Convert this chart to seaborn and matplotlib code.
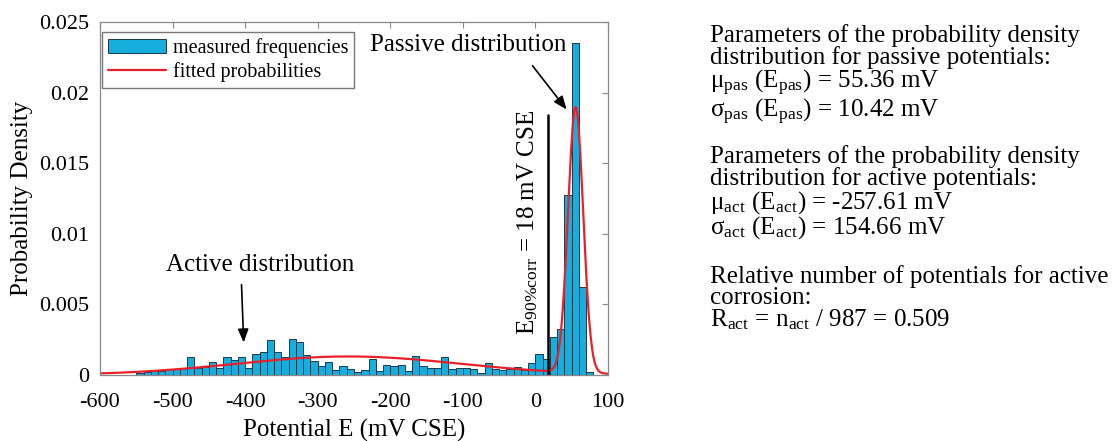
import numpy as np
import pandas as pd
import matplotlib
matplotlib.use("Agg")
import matplotlib.pyplot as plt
import seaborn as sns

# bin left edges (mV CSE), width 10 mV, and measured density per bin
bin_left = list(range(-550, 80, 10))
density = [
    0.00017, 0.0002, 0.0003, 0.0003, 0.0004, 0.0004, 0.0005,          # -550 .. -490
    0.00125, 0.0005, 0.0006, 0.00095, 0.00047, 0.00125, 0.00106,       # -480 .. -420
    0.00125, 0.00047, 0.00146, 0.00165, 0.00248, 0.00165, 0.00125,     # -410 .. -350
    0.00255, 0.00236, 0.00142, 0.00099, 0.00064, 0.00094, 0.00035,     # -340 .. -280
    0.00064, 0.00042, 0.00024, 0.00035, 0.00113, 0.0003, 0.00071,      # -270 .. -210
    0.00061, 0.00071, 0.0003, 0.00134, 0.00064, 0.00047, 0.00047,      # -200 .. -140
    0.00125, 0.00042, 0.00053, 0.00052, 0.00042, 0.00017,              # -130 .. -80
    0.00087, 0.00042, 0.00035, 0.00042, 0.00059, 0.00035, 0.00087,     # -70 .. -10
    0.00146, 0.0011, 0.0027, 0.00324, 0.01275, 0.0235, 0.00625,        # 0 .. 60
    0.00024,                                                           # 70
]

# fitted parameters shown in the figure
mu_pas, sigma_pas = 55.36, 10.42
mu_act, sigma_act = -257.61, 154.66
r_act = 0.509
e_90 = 18

hist_df = pd.DataFrame({"E": [b + 5 for b in bin_left], "p": density})
edges = bin_left + [bin_left[-1] + 10]

e_grid = np.linspace(-600, 100, 701)
def npdf(x, m, s):
    return np.exp(-0.5 * ((x - m) / s) ** 2) / (s * np.sqrt(2 * np.pi))
fit_df = pd.DataFrame({
    "E": e_grid,
    "p": r_act * npdf(e_grid, mu_act, sigma_act) + (1 - r_act) * npdf(e_grid, mu_pas, sigma_pas),
})

sns.set_style("white")
plt.rcParams["font.family"] = ["Liberation Serif", "DejaVu Serif"]
plt.rcParams["mathtext.fontset"] = "stix"
for k in ["text.color", "axes.labelcolor", "xtick.labelcolor", "ytick.labelcolor"]:
    plt.rcParams[k] = "black"

fig = plt.figure(figsize=(11.18, 4.41), dpi=100)
ax = fig.add_axes([100 / 1118, 1 - 375 / 441, 508 / 1118, 353 / 441])

sns.histplot(data=hist_df, x="E", weights="p", bins=edges, stat="count",
             color="#17AEDD", alpha=1, edgecolor="#1a3a4a", linewidth=0.7,
             label="measured frequencies", ax=ax)
sns.lineplot(data=fit_df, x="E", y="p", color="#E8202A", linewidth=1.6,
             label="fitted probabilities", ax=ax)

# E90% line and its label
ax.plot([e_90, e_90], [0, 0.0184], color="black", linewidth=1.8)
ax.text(-10, 0.0108, r"E$_{\mathregular{90\%corr}}$ = 18 mV CSE", rotation=90,
        ha="center", va="center", fontsize=18)

arrow = dict(arrowstyle="-|>,head_length=0.8,head_width=0.32", color="black",
             lw=1.2, shrinkA=0, shrinkB=0)
ax.text(-92, 0.0234, "Passive distribution", ha="center", va="center", fontsize=18)
ax.annotate("", xy=(43, 0.0188), xytext=(-4, 0.0219), arrowprops=arrow)
ax.text(-380, 0.0078, "Active distribution", ha="center", va="center", fontsize=18)
ax.annotate("", xy=(-402, 0.0023), xytext=(-405, 0.0064), arrowprops=arrow)

ax.set_xlim(-600, 100)
ax.set_ylim(0, 0.025)
ax.set_xticks(range(-600, 101, 100))
ax.set_xticklabels([str(v) for v in range(-600, 101, 100)])
ax.set_yticks([0, 0.005, 0.01, 0.015, 0.02, 0.025])
ax.set_yticklabels(["0", "0.005", "0.01", "0.015", "0.02", "0.025"])
ax.tick_params(direction="in", length=4, top=True, right=True, labelsize=16,
               color="#888888")
ax.tick_params(axis="y", pad=8)
ax.tick_params(axis="x", pad=13)
for s in ax.spines.values():
    s.set_color("#888888")
    s.set_linewidth(0.9)
ax.set_xlabel("Potential E (mV CSE)", fontsize=18, labelpad=5)
ax.set_ylabel("Probability Density", fontsize=18, labelpad=4)

handles, labels = ax.get_legend_handles_labels()
order = [labels.index("measured frequencies"), labels.index("fitted probabilities")]
leg = ax.legend([handles[i] for i in order], [labels[i] for i in order],
                loc="upper left", bbox_to_anchor=(0.004, 0.972), borderaxespad=0,
                fontsize=14.5, frameon=True, fancybox=False, handlelength=2.9,
                labelspacing=0.2, borderpad=0.3, handletextpad=0.3)
leg.get_frame().set_edgecolor("#555555")

# parameter text blocks on the right (top y in pixels)
block_pas = "\n".join([
    "Parameters of the probability density",
    "distribution for passive potentials:",
    r"μ$_{\mathregular{pas}}$ (E$_{\mathregular{pas}}$) = 55.36 mV",
    r"σ$_{\mathregular{pas}}$ (E$_{\mathregular{pas}}$) = 10.42 mV",
])
block_act = "\n".join([
    "Parameters of the probability density",
    "distribution for active potentials:",
    r"μ$_{\mathregular{act}}$ (E$_{\mathregular{act}}$) = -257.61 mV",
    r"σ$_{\mathregular{act}}$ (E$_{\mathregular{act}}$) = 154.66 mV",
])
block_r = "\n".join([
    "Relative number of potentials for active",
    "corrosion:",
    r"R$_{\mathregular{act}}$ = n$_{\mathregular{act}}$ / 987 = 0.509",
])
for txt, y in [(block_pas, 24), (block_act, 145), (block_r, 265)]:
    fig.text(710 / 1118, 1 - y / 441, txt, fontsize=18, ha="left", va="top",
             linespacing=0.94)

fig.savefig("out.png", dpi=100)
